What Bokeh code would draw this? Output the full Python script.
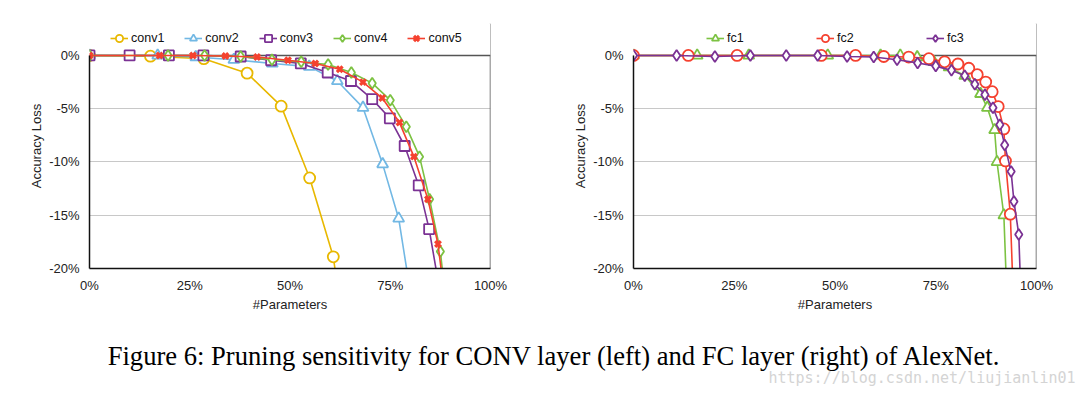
from bokeh.plotting import figure
from bokeh.layouts import column, row
from bokeh.models import Legend, LegendItem, Label, Range1d, FixedTicker, Span, BoxAnnotation
from bokeh.embed import file_html
from bokeh.resources import INLINE

# ---------------- data ----------------
x_ticks = [0, 25, 50, 75, 100]
x_tick_labels = ["0%", "25%", "50%", "75%", "100%"]
y_ticks = [0, -5, -10, -15, -20]
y_tick_labels = ["0%", "-5%", "-10%", "-15%", "-20%"]

conv1_x = [0, 15.2, 28.5, 39.3, 47.8, 54.9, 60.8, 62.0]
conv1_y = [0, -0.07, -0.3, -1.66, -4.76, -11.5, -18.9, -22.2]

conv2_x = [0, 17, 26.5, 36, 45.6, 54.8, 61.8, 68.2, 73.1, 77.1, 80.0]
conv2_y = [0, 0, -0.15, -0.4, -0.75, -1.05, -2.4, -4.9, -10.2, -15.3, -22.2]

conv3_x = [0, 10, 19.8, 28.4, 37.7, 45.3, 52.7, 59.4, 65.2, 70.5, 74.9, 78.6, 82.1, 84.7, 87.4]
conv3_y = [0, 0, 0, 0, -0.1, -0.45, -0.75, -1.6, -2.4, -4.1, -5.9, -8.5, -12.2, -16.3, -22.2]

conv4_x = [0, 19.6, 28.7, 37.7, 45.5, 52.8, 59.5, 65.3, 70.5, 75.0, 79.0, 82.3, 84.8, 87.5, 88.6]
conv4_y = [0, 0, 0, -0.1, -0.4, -0.6, -0.85, -1.6, -2.6, -4.2, -6.7, -9.5, -13.5, -18.4, -22.2]

conv5_x = [0, 17.5, 25.8, 33.9, 41.8, 49.5, 56.3, 62.4, 68.2, 73.0, 77.3, 80.9, 84.4, 86.9, 88.4]
conv5_y = [0, 0, 0, -0.05, -0.15, -0.45, -0.75, -1.3, -2.5, -4.0, -6.3, -9.5, -13.5, -17.7, -22.2]

fc1_x = [0, 15.8, 28.6, 48.2, 61.3, 66.2, 70.4, 74.5, 78.3, 82.2, 86.1, 87.8, 89.6, 90.2, 91.9, 92.6]
fc1_y = [0, 0, 0, 0, 0, 0, -0.15, -0.6, -1.1, -1.9, -3.6, -4.9, -7.0, -10.0, -15.0, -22.2]

fc2_x = [0, 13.6, 25.7, 46.6, 55.1, 62.1, 68.3, 73.3, 77.2, 80.5, 83.2, 85.3, 87.4, 89.0, 90.5, 91.9, 92.3, 93.5, 94.2]
fc2_y = [0, 0, 0, 0, 0, -0.1, -0.15, -0.3, -0.6, -0.8, -1.2, -1.8, -2.5, -3.4, -4.8, -6.9, -9.9, -14.9, -22.2]

fc3_x = [0, 10.7, 20.2, 29, 37.9, 45.7, 53, 59.6, 65.4, 70.5, 75.0, 78.9, 82.2, 84.7, 87.2, 89.2, 90.9, 92.1, 93.7, 94.4, 95.6, 96.1]
fc3_y = [0, 0, -0.1, 0, 0, 0, -0.1, -0.15, -0.4, -0.7, -1.0, -1.4, -1.9, -2.7, -3.7, -4.9, -6.5, -8.4, -10.9, -13.7, -16.8, -22.2]

caption = "Figure 6: Pruning sensitivity for CONV layer (left) and FC layer (right) of AlexNet."
watermark = "https://blog.csdn.net/liujianlin01"

YELLOW = "#e8b800"
BLUE = "#72b8e4"
PURPLE = "#7b3294"
GREEN = "#7cc242"
RED = "#f5412f"

FONT = "Liberation Sans"
Y_TOP = 3.0  # headroom above 0% for the legend


def make_fig(width, left, right):
    p = figure(width=width, height=314, output_backend="svg", toolbar_location=None,
               x_range=Range1d(0, 100), y_range=Range1d(-20, Y_TOP),
               min_border_left=left, min_border_right=right,
               min_border_top=23, min_border_bottom=46)
    p.xaxis.ticker = FixedTicker(ticks=x_ticks)
    p.yaxis.ticker = FixedTicker(ticks=y_ticks)
    p.xaxis.major_label_overrides = dict(zip(x_ticks, x_tick_labels))
    p.yaxis.major_label_overrides = dict(zip(y_ticks, y_tick_labels))
    p.yaxis.bounds = (-20, 0)
    for ax in (p.xaxis[0], p.yaxis[0]):
        ax.major_tick_line_color = None
        ax.minor_tick_line_color = None
        ax.axis_line_color = "#111111"
        ax.axis_line_width = 1.5
        ax.major_label_text_font = FONT
        ax.major_label_text_font_size = "13px"
        ax.major_label_text_color = "#222222"
        ax.axis_label_text_font = FONT
        ax.axis_label_text_font_size = "13px"
        ax.axis_label_text_font_style = "normal"
        ax.axis_label_text_color = "#222222"
    p.xaxis.axis_label = "#Parameters"
    p.yaxis.axis_label = "Accuracy Loss"
    p.xaxis.major_label_standoff = 3
    p.xaxis.axis_label_standoff = 1
    p.yaxis.major_label_standoff = 4
    p.yaxis.axis_label_standoff = 2
    p.xgrid.visible = False
    p.ygrid.ticker = FixedTicker(ticks=y_ticks[1:-1])
    p.ygrid.grid_line_color = "#c8c8c8"
    p.ygrid.grid_line_width = 1
    p.outline_line_color = None
    p.background_fill_color = "white"
    p.border_fill_color = "white"
    # frame border: right side (masked above 0%), then top at 0%
    p.add_layout(Span(location=100, dimension="height", line_color="#555555",
                      line_width=1.5, level="underlay"))
    p.add_layout(BoxAnnotation(bottom=0, fill_color="white", fill_alpha=1.0,
                               line_color=None, level="underlay"))
    p.add_layout(Span(location=0, dimension="width", line_color="#555555",
                      line_width=1.5, level="underlay"))
    return p


def series(p, xs, ys, color, marker, size, lw=1.6, mlw=1.8, fill="white"):
    l = p.line(xs, ys, line_color=color, line_width=lw)
    if marker == "x":
        s = p.scatter(xs, ys, marker="x", size=size, line_color=color, line_width=3.2)
    else:
        s = p.scatter(xs, ys, marker=marker, size=size, line_color=color,
                      line_width=mlw, fill_color=fill)
    return [l, s]


def add_legend(p, items, spacing, x0):
    leg = Legend(items=items, orientation="horizontal", location=(x0, 220),
                 spacing=spacing, glyph_width=18, glyph_height=20, label_standoff=3,
                 padding=0, margin=0, border_line_color=None, background_fill_alpha=0,
                 label_text_font=FONT, label_text_font_size="12.5px",
                 label_text_color="#111111")
    p.add_layout(leg, "center")


# ---------------- left ----------------
p1 = make_fig(553, 89, 63)
items1 = [
    LegendItem(label="conv1", renderers=series(p1, conv1_x, conv1_y, YELLOW, "circle", 11)),
    LegendItem(label="conv2", renderers=series(p1, conv2_x, conv2_y, BLUE, "triangle", 11)),
    LegendItem(label="conv3", renderers=series(p1, conv3_x, conv3_y, PURPLE, "square", 10)),
    LegendItem(label="conv4", renderers=series(p1, conv4_x, conv4_y, GREEN, "diamond", 11)),
    LegendItem(label="conv5", renderers=series(p1, conv5_x, conv5_y, RED, "x", 8)),
]
add_legend(p1, items1, 20, 21)

# ---------------- right ----------------
p2 = make_fig(533, 80, 50)
items2 = [
    LegendItem(label="fc1", renderers=series(p2, fc1_x, fc1_y, GREEN, "triangle", 11)),
    LegendItem(label="fc2", renderers=series(p2, fc2_x, fc2_y, RED, "circle", 11)),
    LegendItem(label="fc3", renderers=series(p2, fc3_x, fc3_y, PURPLE, "diamond", 11)),
]
add_legend(p2, items2, 69, 73)

# ---------------- caption ----------------
p3 = figure(width=1086, height=80, output_backend="svg", toolbar_location=None,
            x_range=Range1d(0, 1), y_range=Range1d(0, 1),
            min_border=0, min_border_left=0, min_border_right=0,
            min_border_top=0, min_border_bottom=0)
p3.axis.visible = False
p3.grid.visible = False
p3.outline_line_color = None
p3.add_layout(Label(x=554, y=39, x_units="screen", y_units="screen", text=caption,
                    text_font="Liberation Serif", text_font_size="26.6px",
                    text_align="center", text_baseline="middle", text_color="#000000"))
p3.add_layout(Label(x=1075, y=17, x_units="screen", y_units="screen", text=watermark,
                    text_font="DejaVu Sans Mono", text_font_size="15px",
                    text_align="right", text_baseline="middle", text_color="#d4d4d4"))

layout = column(row(p1, p2), p3)
open("out.html", "w").write(file_html(layout, INLINE))
